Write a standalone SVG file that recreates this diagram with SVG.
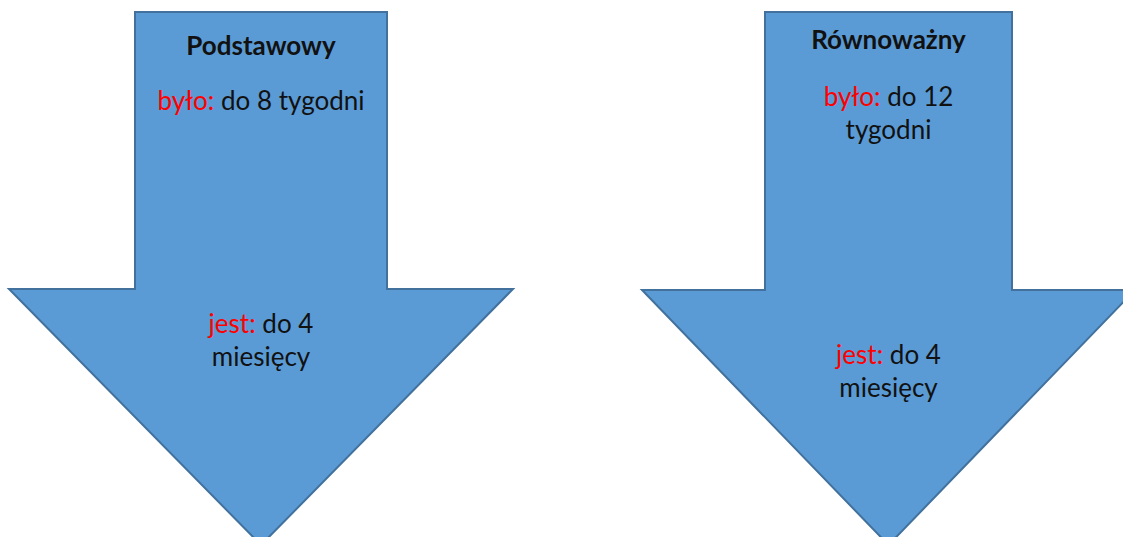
<svg xmlns="http://www.w3.org/2000/svg" width="1123" height="537" viewBox="0 0 1123 537">
<style>
.arrow{fill:#5B9BD5;stroke:#41719C;stroke-width:2}
.t{font-family:Lato,"Liberation Sans",sans-serif;font-size:26px;fill:#111;text-anchor:middle}
.h{font-weight:bold;font-size:26px}
.r{fill:#FF0000}
</style>
<rect width="1123" height="537" fill="#fff"/>
<g id="podstawowy">
<polygon class="arrow" points="135,12 387,12 387,289 513,289 261,545 9,289 135,289"/>
<text class="t h" x="261" y="55">Podstawowy</text>
<text class="t" x="261" y="110"><tspan class="r">było:</tspan> do 8 tygodni</text>
<text class="t" x="261" y="333"><tspan class="r">jest:</tspan> do 4</text>
<text class="t" x="261" y="366">miesięcy</text>
</g>
<g id="rownowazny">
<polygon class="arrow" points="765,12 1012,12 1012,290 1135,290 888.5,545 642,290 765,290"/>
<text class="t h" x="888.5" y="49">Równoważny</text>
<text class="t" x="888.5" y="106"><tspan class="r">było:</tspan> do 12</text>
<text class="t" x="888.5" y="139">tygodni</text>
<text class="t" x="888.5" y="364"><tspan class="r">jest:</tspan> do 4</text>
<text class="t" x="888.5" y="397">miesięcy</text>
</g>
<g id="connectors"/>
</svg>
